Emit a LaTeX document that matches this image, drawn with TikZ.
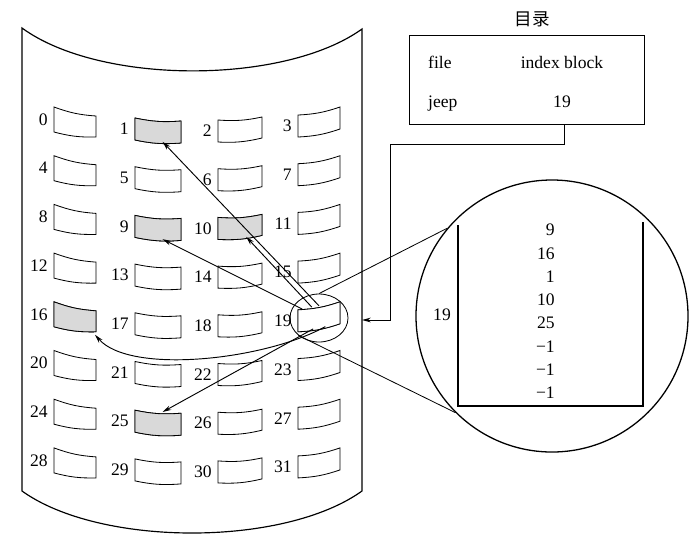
\documentclass[tikz,border=0pt]{standalone}
\usepackage{fontspec}
\setmainfont{Liberation Serif}
\newfontfamily\cjk{Noto Sans CJK SC}
\usepackage{tikz}
\usetikzlibrary{positioning, arrows.meta, shapes.geometric, calc}

% one disk block, drawn through its named corners
\newcommand{\drawblk}[2]{%
  \draw[#2] (b#1-tl) to[bend right=8] (b#1-tr) -- (b#1-br) to[bend left=8] (b#1-bl) -- cycle;}

\begin{document}
\begin{tikzpicture}[
    x=0.03cm, y=-0.03cm,
    every node/.style={font=\fontsize{15}{18}\selectfont},
    blk/.style={line width=0.7pt, fill=white},
    used/.style={blk, fill=gray!30},
    num/.style={anchor=east, inner sep=1pt},
    link/.style={line width=0.8pt, -{Stealth[length=7.5pt, width=4pt]}},
    wire/.style={line width=0.7pt}
]
\useasboundingbox (0,0) rectangle (700,550);

% the disk surface
\draw[line width=1pt] (22,28) .. controls (100,85) and (284,85) .. (362,29)
    -- (362,491) .. controls (284,547) and (100,547) .. (22,491) -- cycle;
\coordinate (rim) at (362,320);

% 32 blocks
\foreach \r in {0,...,7}
  \foreach \c/\x/\w/\dl/\dr/\hl/\hr in {0/54/42/0/9/25/21, 1/135/46/11/14/22/22, 2/218/44/13/10/22/21, 3/298/42/8/0/22/22} {
    \pgfmathtruncatemacro{\n}{4*\r+\c}
    \pgfmathsetmacro{\y}{107+48.7*\r}
    \coordinate (b\n-tl) at ({\x}, {\y+\dl});
    \coordinate (b\n-tr) at ({\x+\w}, {\y+\dr});
    \coordinate (b\n-br) at ({\x+\w}, {\y+\dr+\hr});
    \coordinate (b\n-bl) at ({\x}, {\y+\dl+\hl});
    \drawblk{\n}{blk}
    \node[num] (l\n) at ($(b\n-tl)!0.5!(b\n-bl) + (-5,0)$) {\n};
  }
\foreach \n in {1,9,10,16,25} {\drawblk{\n}{used}}

% index block 19, ringed
\node[ellipse, draw, line width=0.7pt, minimum width=1.74cm, minimum height=1.44cm, inner sep=0] (ring) at (319,318) {};
\drawblk{19}{blk}

% pointers out of the index block
\draw[link] ($(b19-tl)!0.5!(b19-tr)$) -- ($(b1-bl)!0.6!(b1-br)$);
\draw[link] ($(b19-tl)!0.33!(b19-tr)$) -- ($(b10-bl)!0.64!(b10-br)$);
\draw[link] ($(b19-tl)!0.1!(b19-tr)$) -- ($(b9-bl)!0.6!(b9-br)$);
\draw[link] ($(b19-bl)!0.36!(b19-br)$) -- ($(b25-tl)!0.6!(b25-tr)$);
\draw[link] ($(b19-bl)!0.65!(b19-br)$) .. controls (265,360) and (130,375) .. ($(b16-br)+(-1,3)$);

% directory
\node[draw, line width=0.8pt, minimum width=7.05cm, minimum height=2.67cm, inner sep=0] (dir) at (526.5,79.5) {};
\node (dirtitle) at (532,19) {\cjk 目录};
\node[anchor=base west, inner sep=0] (fcol) at (428,68) {file};
\node[anchor=base, inner sep=0] (icol) at (562,68) {index block};
\node[anchor=base west, inner sep=0] (fname) at (428,107) {jeep};
\node[anchor=base, inner sep=0] (iblk) at (562,107) {19};
\draw[link] ($(dir.south west)!0.66!(dir.south east)$) -- ++(0,20) -| (390,320) -- (rim);

% enlarged view of block 19
\node[circle, draw, line width=1.1pt, minimum size=8.16cm, inner sep=0] (zoom) at (552,316) {};
\draw[wire] (ring.north) -- (zoom.140);
\draw[wire] (ring.220) -- (zoom.225);
\draw[line width=1.2pt] (458,225) -- (458,406) -- (643,406) -- (643,222);
\node (idx) at (442,315) {19};
\foreach \v [count=\i from 0] in {9,16,1,10,25,−1,−1,−1}
  \node[anchor=east, inner sep=0] (e\i) at (555, {230+23.3*\i}) {\v};
\end{tikzpicture}
\end{document}
